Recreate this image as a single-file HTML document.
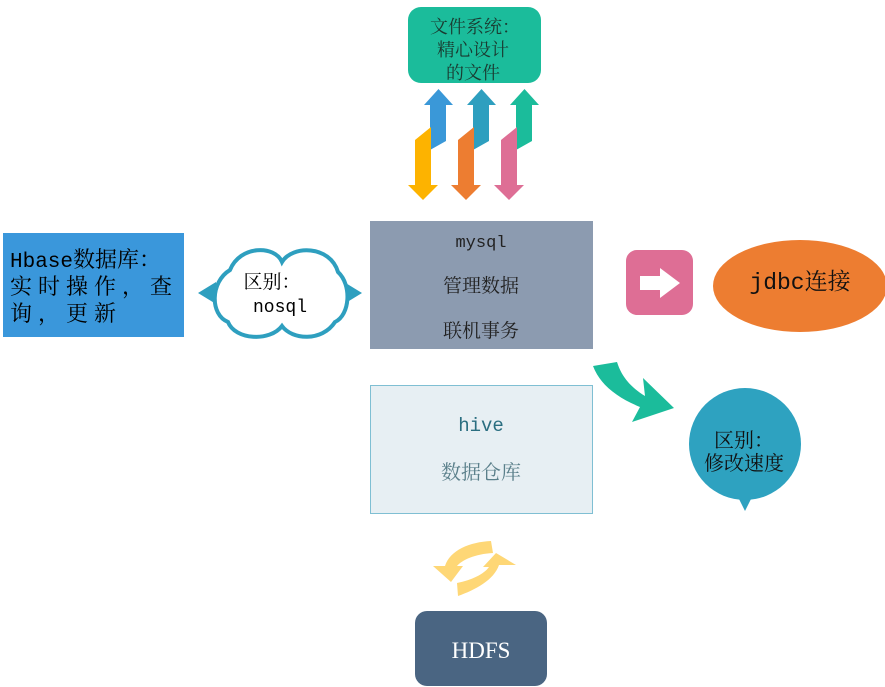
<!DOCTYPE html>
<html><head><meta charset="utf-8"><style>
html,body{margin:0;padding:0;background:#fff;}
svg{display:block}
.s{font-family:"Liberation Serif","Noto Serif CJK SC",serif;}
.m{font-family:"Liberation Mono","Noto Serif CJK SC",monospace;}
</style></head><body>
<svg width="885" height="687" viewBox="0 0 885 687" xmlns="http://www.w3.org/2000/svg">
<rect x="408" y="7" width="133" height="76" rx="13" fill="#1bbc9b"/>
<g class="s" font-size="18" fill="#1a3a30" text-anchor="middle">
<text x="475" y="33">文件系统：</text>
<text x="473" y="56">精心设计</text>
<text x="473" y="79">的文件</text>
</g>
<polygon points="430,150 430,105 424,105 438.5,89 453,105 446,105 446,141" fill="#3a98d8"/>
<polygon points="415,140 431,127 431,185 438,185 423,200 408,185 415,185" fill="#fdb300"/>
<polygon points="473,150 473,105 467,105 481.5,89 496,105 489,105 489,141" fill="#2e9fbf"/>
<polygon points="458,140 474,127 474,185 481,185 466,200 451,185 458,185" fill="#ed7d31"/>
<polygon points="516,150 516,105 510,105 524.5,89 539,105 532,105 532,141" fill="#1bbc9b"/>
<polygon points="501,140 517,127 517,185 524,185 509,200 494,185 501,185" fill="#de6e95"/>

<rect x="3" y="233" width="181" height="104" fill="#3a97db"/>
<g font-size="22" fill="#000">
<text class="m" x="10" y="267" font-size="21">Hbase<tspan class="s" font-size="22">数据库：</tspan></text>
<text class="s" x="10" y="294" letter-spacing="6">实时操作，查</text>
<text class="s" x="10" y="321" letter-spacing="6">询，更新</text>
</g>

<polygon points="198,293 216,282 216,304" fill="#2e9fbf"/>
<polygon points="362,293 344,282 344,304" fill="#2e9fbf"/>
<path d="M230,270 C240,245 275,245 282,262 C292,245 330,245 338,272 C352,285 350,315 335,322 C322,342 292,340 282,326 C270,342 235,340 228,322 C210,315 210,282 230,270 Z" fill="#fff" stroke="#2e9fbf" stroke-width="4"/>
<text class="s" x="272" y="288" font-size="19" fill="#000" text-anchor="middle">区别：</text>
<text class="m" x="280" y="312" font-size="18" fill="#000" text-anchor="middle">nosql</text>

<rect x="370" y="221" width="223" height="128" fill="#8c9bb0"/>
<text class="m" x="481" y="247" font-size="17" fill="#222" text-anchor="middle">mysql</text>
<text class="s" x="481" y="292" font-size="19" fill="#222" text-anchor="middle">管理数据</text>
<text class="s" x="481" y="337" font-size="19" fill="#222" text-anchor="middle">联机事务</text>

<rect x="370.5" y="385.5" width="222" height="128" fill="#e7eff3" stroke="#7fbfd3"/>
<text class="m" x="481" y="431" font-size="19" fill="#2a6e80" text-anchor="middle">hive</text>
<text class="s" x="481" y="479" font-size="20" fill="#5a7f8a" text-anchor="middle">数据仓库</text>

<rect x="626" y="250" width="67" height="65" rx="11" fill="#de6e95"/>
<polygon points="640,276 660,276 660,268 680,283 660,298 660,290 640,290" fill="#fff"/>

<ellipse cx="800" cy="286" rx="87" ry="46" fill="#ed7d31"/>
<text x="800" y="289" font-size="23" fill="#111" text-anchor="middle"><tspan class="m">jdbc</tspan><tspan class="s">连接</tspan></text>

<path d="M593,366 L617,362 C622,378 632,388 645,396 L643,378 L674,408 L632,422 L640,407 C618,398 600,385 593,366 Z" fill="#1bbc9b"/>

<circle cx="745" cy="444" r="56" fill="#2ea2c0"/>
<polygon points="738,497 752,497 745,511" fill="#2ea2c0"/>
<text class="s" x="714" y="447" font-size="20" fill="#111">区别：</text>
<text class="s" x="704" y="470" font-size="20" fill="#111">修改速度</text>

<path d="M445,566 C450,550 470,542 491,541 L493,553 C475,554 462,560 457,566 L463,566 L451,582 L433,566 Z" fill="#fed776"/>
<path d="M499,565 C494,580 475,590 458,596 L457,583 C472,580 484,574 489,567 L483,567 L496,553 L516,565 Z" fill="#fed776"/>

<rect x="415" y="611" width="132" height="75" rx="12" fill="#4a6582"/>
<text class="s" x="481" y="658" font-size="23" fill="#fff" text-anchor="middle">HDFS</text>
</svg>
</body></html>
